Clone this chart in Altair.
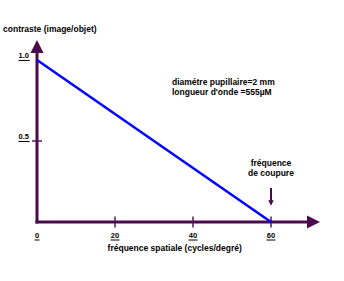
import altair as alt
import pandas as pd

# Contrast transfer of the eye: contrast falls linearly from 1 to 0 at the cut-off frequency
freq = [0, 60]
contrast = [1.0, 0.0]

x_tick_values = [20, 40, 60]
x_label_values = [0, 20, 40, 60]
y_tick_values = [0.5]
y_label_values = [0.5, 1.0]

cutoff = 60
notes = ["diamétre pupillaire=2 mm", "longueur d'onde =555µM"]
cutoff_note = ["fréquence", "de coupure"]
x_title = "fréquence spatiale (cycles/degré)"
y_title = "contraste (image/objet)"

PURPLE = "#4b0a4b"
BLUE = "#0000ff"
FONT = "Liberation Sans"

# layout of the hand-drawn axes (in data units)
x_axis_base, x_head_c = 69.2, 70.9
y_axis_base, y_head_c = 1.045, 1.083

xs = alt.Scale(domain=[-9.49, 78.72], nice=False, zero=False)
ys = alt.Scale(domain=[-0.364, 1.370], nice=False, zero=False)


def X(f):
    return alt.X(f, type="quantitative", scale=xs, axis=None)


def Y(f):
    return alt.Y(f, type="quantitative", scale=ys, axis=None)


# axis shafts
axis_df = pd.DataFrame({"x": [0, 0], "x2": [0, x_axis_base],
                        "y": [0, 0], "y2": [y_axis_base, 0]})
axes = alt.Chart(axis_df).mark_rule(color=PURPLE, strokeWidth=3, strokeCap="square").encode(
    x=X("x"), x2="x2", y=Y("y"), y2="y2")

# arrow heads
UP = "M0,-1L1,1L-1,1Z"
RIGHT = "M1,0L-1,-1L-1,1Z"
DOWN = "M0,1L-1,-1L1,-1Z"
heads_df = pd.DataFrame({"x": [0, x_head_c], "y": [y_head_c, 0], "shape": [UP, RIGHT]})
heads = alt.Chart(heads_df).mark_point(filled=True, opacity=1, color=PURPLE, size=169).encode(
    x=X("x"), y=Y("y"), shape=alt.Shape("shape:N", scale=None, legend=None))

# ticks
xt = alt.Chart(pd.DataFrame({"x": x_tick_values, "y": 0})).mark_tick(
    orient="vertical", size=11, thickness=2, color=PURPLE).encode(x=X("x"), y=Y("y"))
yt = alt.Chart(pd.DataFrame({"x": 0, "y": y_tick_values})).mark_tick(
    orient="horizontal", size=10, thickness=2, color=PURPLE).encode(x=X("x"), y=Y("y"))

# tick labels, underlined
xl_df = pd.DataFrame({"x": x_label_values, "y": 0,
                      "t": [str(v) for v in x_label_values]})
xl_df["n"] = xl_df["t"].str.len()
xl = alt.Chart(xl_df).mark_text(font=FONT, fontSize=7.5, fontWeight="bold", align="center",
                                baseline="alphabetic", dy=16, color="black").encode(
    x=X("x"), y=Y("y"), text="t:N")
xu1 = alt.Chart(xl_df).transform_filter("datum.n == 1").mark_rule(
    color="black", strokeWidth=1, xOffset=-2.5, x2Offset=2.5, yOffset=18, y2Offset=18).encode(
    x=X("x"), x2="x", y=Y("y"), y2="y")
xu2 = alt.Chart(xl_df).transform_filter("datum.n == 2").mark_rule(
    color="black", strokeWidth=1, xOffset=-4.5, x2Offset=4.5, yOffset=18, y2Offset=18).encode(
    x=X("x"), x2="x", y=Y("y"), y2="y")

yl_df = pd.DataFrame({"x": 0, "y": y_label_values,
                      "t": [f"{v:.1f}" for v in y_label_values]})
yl = alt.Chart(yl_df).mark_text(font=FONT, fontSize=7.5, fontWeight="bold", align="right",
                                baseline="alphabetic", dx=-8, dy=-2, color="black").encode(
    x=X("x"), y=Y("y"), text="t:N")
yu = alt.Chart(yl_df).mark_rule(
    color="black", strokeWidth=1, xOffset=-18.5, x2Offset=-7.5, yOffset=0.5, y2Offset=0.5).encode(
    x=X("x"), x2="x", y=Y("y"), y2="y")

# the transfer curve
curve = alt.Chart(pd.DataFrame({"f": freq, "c": contrast})).mark_line(
    color=BLUE, strokeWidth=2.5).encode(x=X("f"), y=Y("c"))

# cut-off pointer
shaft = alt.Chart(pd.DataFrame({"x": [cutoff], "y": [0.21], "y2": [0.125]})).mark_rule(
    color=PURPLE, strokeWidth=2).encode(x=X("x"), y=Y("y"), y2="y2")
tip = alt.Chart(pd.DataFrame({"x": [cutoff], "y": [0.117]})).mark_point(
    filled=True, opacity=1, color=PURPLE, size=30, shape=DOWN).encode(x=X("x"), y=Y("y"))

# texts
txt_style = dict(font=FONT, fontSize=8.5, fontWeight="bold", color="black", baseline="alphabetic")
note_df = pd.DataFrame({"x": 34.6, "y": [0.846, 0.784], "t": notes})
note = alt.Chart(note_df).mark_text(align="left", **txt_style).encode(
    x=X("x"), y=Y("y"), text="t:N")
cut_df = pd.DataFrame({"x": cutoff, "y": [0.346, 0.284], "t": cutoff_note})
cut = alt.Chart(cut_df).mark_text(align="center", **txt_style).encode(
    x=X("x"), y=Y("y"), text="t:N")
titles_df = pd.DataFrame({"x": [-8.7, 35.3], "y": [1.173, -0.179],
                          "t": [y_title, x_title], "a": ["left", "center"]})
ytitle = alt.Chart(titles_df.iloc[[0]]).mark_text(align="left", **txt_style).encode(
    x=X("x"), y=Y("y"), text="t:N")
xtitle = alt.Chart(titles_df.iloc[[1]]).mark_text(align="center", **txt_style).encode(
    x=X("x"), y=Y("y"), text="t:N")

chart = alt.layer(
    axes, heads, xt, yt, curve, shaft, tip, xl, xu1, xu2, yl, yu, note, cut, ytitle, xtitle
).properties(
    width=344, height=281, padding=0,
    autosize=alt.AutoSizeParams(type="none"),
    background="white",
).configure_view(stroke=None)

chart.save("out.html", embed_options={"renderer": "svg", "actions": False})
